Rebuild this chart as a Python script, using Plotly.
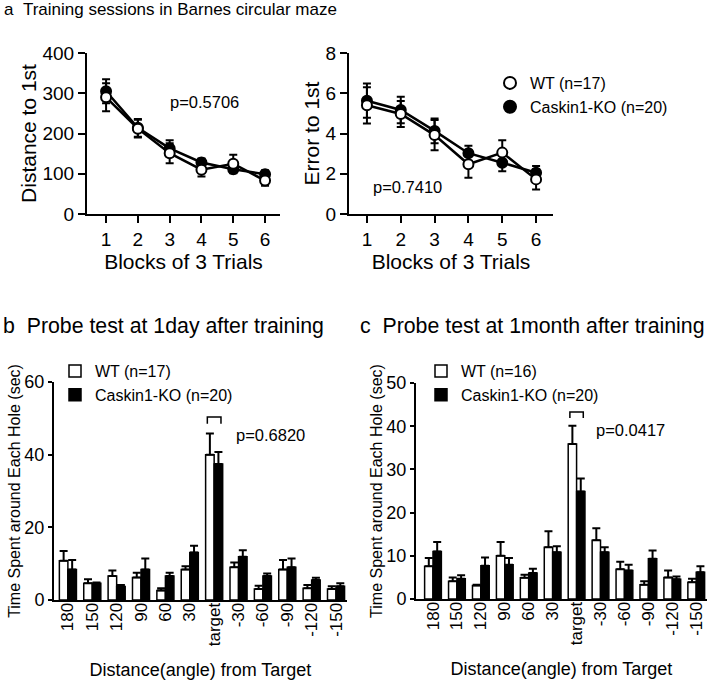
import plotly.graph_objects as go

FONT = "Liberation Sans, Arial, sans-serif"

# ---- Panel a: training sessions ----
blocks = [1, 2, 3, 4, 5, 6]
wt_dist = [290, 212, 151, 110, 125, 83]
wt_dist_err = [35, 22, 25, 17, 22, 13]
ko_dist = [305, 214, 163, 128, 111, 99]
ko_dist_err = [30, 22, 20, 10, 10, 10]

wt_err1 = [5.40, 4.97, 3.92, 2.47, 3.05, 1.72]
wt_err1_err = [0.90, 0.65, 0.75, 0.67, 0.62, 0.50]
ko_err1 = [5.63, 5.17, 4.13, 3.02, 2.55, 2.05]
ko_err1_err = [0.85, 0.66, 0.62, 0.37, 0.42, 0.33]

# ---- Panels b, c: probe tests ----
angles = ["180", "150", "120", "90", "60", "30", "target", "-30", "-60", "-90", "-120", "-150"]
wt_1day = [10.8, 4.6, 6.6, 6.2, 2.6, 8.4, 40.0, 9.0, 3.0, 8.4, 3.2, 3.0]
wt_1day_err = [2.7, 1.1, 1.5, 1.3, 0.6, 0.9, 5.8, 1.3, 0.9, 2.6, 0.9, 0.8]
ko_1day = [8.4, 4.6, 3.7, 8.4, 6.6, 13.1, 37.4, 11.9, 6.6, 9.0, 5.5, 3.8]
ko_1day_err = [2.6, 0.2, 0.4, 3.0, 0.9, 1.8, 3.3, 1.8, 0.7, 2.4, 0.6, 0.8]

wt_1mon = [7.6, 4.1, 3.1, 10.0, 4.9, 12.0, 35.9, 13.6, 6.9, 3.3, 5.0, 3.9]
wt_1mon_err = [1.9, 0.9, 0.2, 3.2, 0.7, 3.7, 4.2, 2.8, 1.7, 0.8, 1.6, 0.8]
ko_1mon = [11.0, 4.7, 7.7, 7.9, 6.0, 10.8, 24.9, 10.8, 6.6, 9.3, 4.6, 6.2]
ko_1mon_err = [2.2, 0.8, 1.9, 1.6, 1.0, 1.4, 3.0, 1.2, 1.3, 1.9, 0.6, 1.4]

W, H = 708, 682
def px(x):
    return x / W
def py(y):
    return 1 - y / H

fig = go.Figure()

def line_panel(xa, ya, wt, wte, ko, koe, legend, showleg):
    for vals in [ko, wt]:
        fig.add_trace(go.Scatter(x=blocks, y=vals, mode="lines", xaxis=xa, yaxis=ya,
                                 line=dict(color="black", width=2.5), showlegend=False,
                                 hoverinfo="skip"))
    for vals, errs, fill, name in [(ko, koe, "black", "Caskin1-KO (n=20)"),
                                   (wt, wte, "white", "WT (n=17)")]:
        fig.add_trace(go.Scatter(x=blocks, y=vals, mode="markers", xaxis=xa, yaxis=ya,
                                 name=name, legend=legend, showlegend=showleg,
                                 marker=dict(symbol="circle", size=10, color=fill,
                                             line=dict(color="black", width=2)),
                                 error_y=dict(type="data", array=errs, visible=True,
                                              color="black", thickness=2, width=4),
                                 cliponaxis=False))

line_panel("x", "y", wt_dist, wt_dist_err, ko_dist, ko_dist_err, "legend", False)
line_panel("x2", "y2", wt_err1, wt_err1_err, ko_err1, ko_err1_err, "legend", True)

def bar_panel(xa, ya, wt, wte, ko, koe, legend, wtname):
    for vals, errs, fill, name in [(wt, wte, "white", wtname),
                                   (ko, koe, "black", "Caskin1-KO (n=20)")]:
        fig.add_trace(go.Bar(x=angles, y=vals, xaxis=xa, yaxis=ya, name=name,
                             legend=legend, offsetgroup=name,
                             marker=dict(color=fill, line=dict(color="black", width=1.5)),
                             error_y=dict(type="data", array=errs, symmetric=False,
                                          arrayminus=[0] * len(errs), visible=True,
                                          color="black", thickness=2, width=4),
                             cliponaxis=False))

bar_panel("x3", "y3", wt_1day, wt_1day_err, ko_1day, ko_1day_err, "legend2", "WT (n=17)")
bar_panel("x4", "y4", wt_1mon, wt_1mon_err, ko_1mon, ko_1mon_err, "legend3", "WT (n=16)")

tickfont_top = dict(family=FONT, size=19, color="black")
title_top = dict(family=FONT, size=21, color="black")
ytick_bot = dict(family=FONT, size=18, color="black")
xtick_bot = dict(family=FONT, size=17, color="black")
xtitle_bot = dict(family=FONT, size=18, color="black")
ytitle_bot = dict(family=FONT, size=16, color="black")

ax_common = dict(showline=True, linecolor="black", linewidth=2, ticks="outside",
                 tickwidth=2, tickcolor="black", showgrid=False,
                 zeroline=False, mirror=False, automargin=False)

top_y = [py(214), py(53)]
fig.update_layout(
    width=W, height=H, margin=dict(l=0, r=0, t=0, b=0, autoexpand=False),
    autosize=False,
    plot_bgcolor="white", paper_bgcolor="white",
    font=dict(family=FONT, color="black"),
    barmode="group", bargap=0.3, bargroupgap=0.0,
    xaxis=dict(**ax_common, ticklen=7, domain=[px(87), px(280)], anchor="y", range=[0.4, 6.47],
               tickvals=blocks, tickfont=tickfont_top,
               title=dict(text="Blocks of 3 Trials", font=title_top, standoff=6)),
    yaxis=dict(**ax_common, ticklen=7, domain=top_y, anchor="x", range=[0, 400],
               tickvals=[0, 100, 200, 300, 400], tickfont=tickfont_top,
               title=dict(text="Distance to 1st", font=title_top, standoff=0)),
    xaxis2=dict(**ax_common, ticklen=7, domain=[px(349), px(553)], anchor="y2", range=[0.47, 6.5],
                tickvals=blocks, tickfont=tickfont_top,
                title=dict(text="Blocks of 3 Trials", font=title_top, standoff=6)),
    yaxis2=dict(**ax_common, ticklen=7, domain=top_y, anchor="x2", range=[0, 8],
                tickvals=[0, 2, 4, 6, 8], tickfont=tickfont_top,
                title=dict(text="Error to 1st", font=title_top, standoff=0)),
    xaxis3=dict(showline=True, linecolor="black", linewidth=2, ticks="", showgrid=False,
                automargin=False, ticklabelstandoff=-6,
                domain=[px(54), px(347)], anchor="y3", range=[-0.57, 11.45],
                tickangle=-90, tickfont=xtick_bot,
                title=dict(text="Distance(angle) from Target", font=xtitle_bot, standoff=18)),
    yaxis3=dict(**ax_common, ticklen=4, domain=[py(600), py(382)], anchor="x3", range=[0, 60],
                tickvals=[0, 20, 40, 60], tickfont=ytick_bot,
                title=dict(text="Time Spent around Each Hole (sec)", font=ytitle_bot, standoff=0)),
    xaxis4=dict(showline=True, linecolor="black", linewidth=2, ticks="", showgrid=False,
                automargin=False, ticklabelstandoff=-6,
                domain=[px(416), px(707)], anchor="y4", range=[-0.71, 11.45],
                tickangle=-90, tickfont=xtick_bot,
                title=dict(text="Distance(angle) from Target", font=xtitle_bot, standoff=18)),
    yaxis4=dict(**ax_common, ticklen=4, domain=[py(599), py(383)], anchor="x4", range=[0, 50],
                tickvals=[0, 10, 20, 30, 40, 50], tickfont=ytick_bot,
                title=dict(text="Time Spent around Each Hole (sec)", font=ytitle_bot, standoff=0)),
    legend=dict(x=px(490), y=py(66), xanchor="left", yanchor="top", traceorder="reversed",
                font=dict(family=FONT, size=16, color="black"), bgcolor="rgba(0,0,0,0)",
                tracegroupgap=0, itemsizing="constant"),
    legend2=dict(x=px(55), y=py(354), xanchor="left", yanchor="top",
                 font=dict(family=FONT, size=16, color="black"), bgcolor="rgba(0,0,0,0)",
                 tracegroupgap=0),
    legend3=dict(x=px(421), y=py(354), xanchor="left", yanchor="top",
                 font=dict(family=FONT, size=16, color="black"), bgcolor="rgba(0,0,0,0)",
                 tracegroupgap=0),
)

annots = [
    dict(text="a\u00a0\u00a0Training sessions in Barnes circular maze", xref="paper", yref="paper",
         x=px(2), y=py(10), xanchor="left", yanchor="middle", showarrow=False,
         font=dict(family=FONT, size=17, color="black")),
    dict(text="b\u00a0\u00a0Probe test at 1day after training", xref="paper", yref="paper",
         x=px(1), y=py(326), xanchor="left", yanchor="middle", showarrow=False,
         font=dict(family=FONT, size=21.3, color="black")),
    dict(text="c\u00a0\u00a0Probe test at 1month after training", xref="paper", yref="paper",
         x=px(358), y=py(326), xanchor="left", yanchor="middle", showarrow=False,
         font=dict(family=FONT, size=21.3, color="black")),
    dict(text="p=0.5706", xref="x", yref="y", x=4.11, y=278, showarrow=False,
         font=dict(family=FONT, size=16.5, color="black")),
    dict(text="p=0.7410", xref="x2", yref="y2", x=2.19, y=1.34, showarrow=False,
         font=dict(family=FONT, size=16.5, color="black")),
    dict(text="p=0.6820", xref="x3", yref="y3", x=8.32, y=45.3, showarrow=False,
         font=dict(family=FONT, size=16.5, color="black")),
    dict(text="p=0.0417", xref="x4", yref="y4", x=8.24, y=39.2, showarrow=False,
         font=dict(family=FONT, size=16.5, color="black")),
]
fig.update_layout(annotations=annots)

tgt = angles.index("target")
shapes = [
    dict(type="path", xref="x3", yref="y3",
         path=f"M {tgt-0.28},48.5 L {tgt-0.28},50.4 L {tgt+0.28},50.4 L {tgt+0.28},48.5",
         line=dict(color="black", width=1.5)),
    dict(type="path", xref="x4", yref="y4",
         path=f"M {tgt-0.28},41.9 L {tgt-0.28},43.3 L {tgt+0.28},43.3 L {tgt+0.28},41.9",
         line=dict(color="black", width=1.5)),
]
fig.update_layout(shapes=shapes)

fig.write_html("out.html", config={"displayModeBar": False},
               post_script="document.body.style.margin='0';")
